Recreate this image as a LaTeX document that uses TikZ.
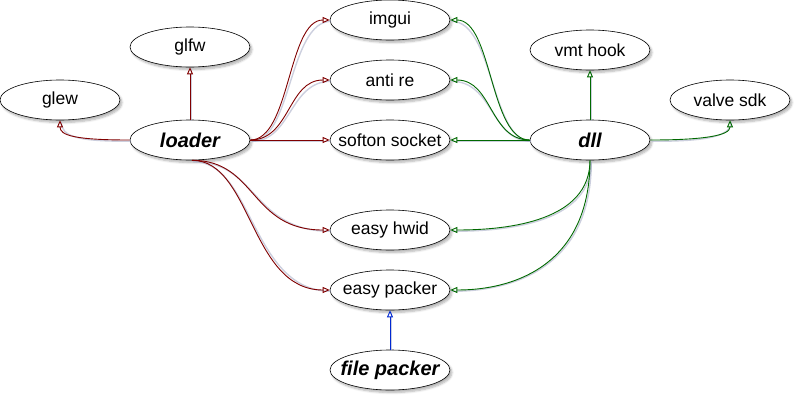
\documentclass[tikz,border=0pt]{standalone}
\usepackage{fontspec}
\setmainfont{Liberation Sans}
\usetikzlibrary{shapes.geometric,arrows.meta,shadows.blur}
\definecolor{redE}{RGB}{128,0,0}
\definecolor{greenE}{RGB}{0,105,0}
\definecolor{blueE}{RGB}{0,40,210}
\definecolor{shadE}{RGB}{170,175,200}
\newcommand\ctxt[1]{\makebox[0pt][c]{#1}}
\tikzset{
  lib/.style={ellipse,draw=black,line width=0.6pt,fill=white,minimum width=120pt,minimum height=40pt,inner sep=0pt,
    font=\fontsize{17.5}{20}\selectfont,
    blur shadow={shadow xshift=2pt,shadow yshift=-2.5pt,shadow blur steps=6,shadow opacity=30}},
  mainn/.style={lib,font=\fontsize{20}{22}\selectfont\bfseries\itshape},
  conn/.style={line width=0.9pt,-{Triangle[open,length=7pt,width=6pt]},
    preaction={draw=shadE,line width=1.4pt,arrows=-,opacity=0.6,transform canvas={shift={(1.3pt,-1.3pt)}}}},
  redc/.style={conn,draw=redE},
  greenc/.style={conn,draw=greenE},
  bluec/.style={conn,draw=blueE}
}
\begin{document}
\begin{tikzpicture}[x=1pt,y=-1pt]
\useasboundingbox (0,0) rectangle (803,402);
% loader edges
\node[lib] (glew) at (60,100) {\ctxt{glew}};
\node[lib] (glfw) at (190,47) {\ctxt{glfw}};
\node[mainn] (loader) at (190,140) {\ctxt{loader}};
\node[lib] (imgui) at (390,20) {\ctxt{imgui}};
\node[lib] (antire) at (390,80) {\ctxt{anti re}};
\node[lib] (softon) at (390,140) {\ctxt{softon socket}};
\node[lib] (hwid) at (390,230) {\ctxt{easy hwid}};
\node[lib] (packer) at (390,290) {\ctxt{easy packer}};
\node[mainn] (filepacker) at (390,370) {\ctxt{file packer}};
\node[mainn] (dll) at (590,140) {\ctxt{dll}};
\node[lib] (vmt) at (590,50) {\ctxt{vmt hook}};
\node[lib] (valve) at (730,100) {\ctxt{valve sdk}};
\draw[redc] (loader.west) .. controls +(-55,0) and +(0,15) .. (glew.south);
\draw[redc] (loader.north) -- (glfw.south);
\draw[redc] (loader.east) .. controls +(40,0) and +(-42,0) .. (imgui.west);
\draw[redc] (loader.east) .. controls +(40,0) and +(-42,0) .. (antire.west);
\draw[redc] (loader.east) -- (softon.west);
\draw[redc] ([xshift=2pt]loader.south) .. controls +(65,0) and +(-80,0) .. (hwid.west);
\draw[redc] ([xshift=2pt]loader.south) .. controls +(60,0) and +(-80,0) .. (packer.west);
% dll edges
\draw[greenc] (dll.west) .. controls +(-40,0) and +(42,0) .. (imgui.east);
\draw[greenc] (dll.west) .. controls +(-40,0) and +(42,0) .. (antire.east);
\draw[greenc] (dll.west) -- (softon.east);
\draw[greenc] (dll.north) -- (vmt.south);
\draw[greenc] (dll.east) .. controls +(55,0) and +(0,15) .. (valve.south);
\draw[greenc] (dll.south) .. controls +(0,60) and +(60,0) .. (hwid.east);
\draw[greenc] (dll.south) .. controls +(0,100) and +(70,0) .. (packer.east);
% file packer
\draw[bluec] (filepacker.north) -- (packer.south);
\end{tikzpicture}
\end{document}
